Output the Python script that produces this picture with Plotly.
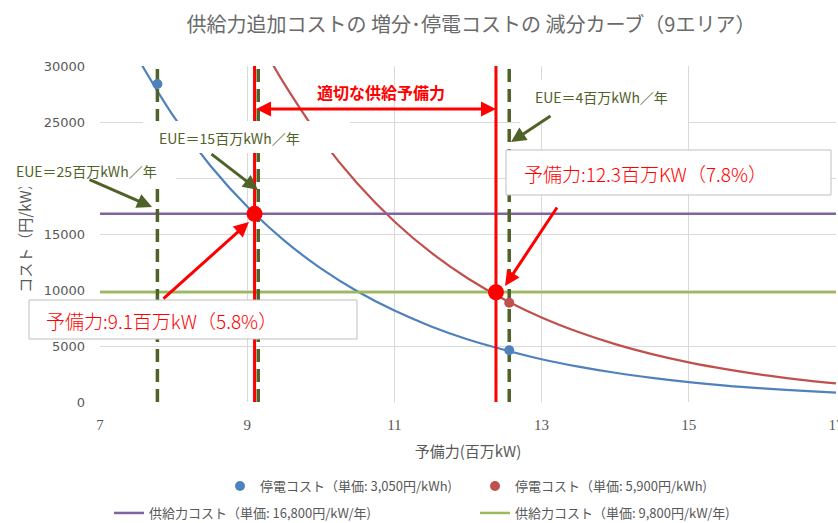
import plotly.graph_objects as go

# ---------------- data ----------------
reserve_blue = [7.55, 8.0, 8.5, 9.0, 9.5, 10.0, 10.5, 11.0, 11.5, 12.0, 12.5,
                13.0, 13.5, 14.0, 14.5, 15.0, 15.5, 16.0, 16.5, 17.0]
cost_blue = [30300, 25500, 21100, 17450, 14430, 11930, 9870, 8160, 6750, 5580, 4640,
             3820, 3160, 2610, 2160, 1780, 1470, 1220, 1010, 840]

reserve_red = [9.3, 9.5, 10.0, 10.5, 11.0, 11.5, 12.0, 12.5, 13.0, 13.5,
               14.0, 14.5, 15.0, 15.5, 16.0, 16.5, 17.0]
cost_red = [30690, 28450, 23540, 19480, 16120, 13330, 11030, 9130, 7550, 6250,
            5170, 4280, 3540, 2930, 2420, 2005, 1660]

blue_point_x = [7.78, 12.56]
blue_point_y = [28400, 4620]
red_point_x = [12.56]
red_point_y = [8860]

supply_cost = [16800, 9800]
supply_names = ["供給力コスト（単価: 16,800円/kW/年)", "供給力コスト（単価: 9,800円/kW/年)"]
outage_names = ["停電コスト（単価: 3,050円/kWh)", "停電コスト（単価: 5,900円/kWh)"]

opt_reserve = [9.1, 12.38]
opt_cost = [16800, 9800]
opt_labels = ["予備力:9.1百万kW（5.8%）", "予備力:12.3百万KW（7.8%）"]

eue_reserve = [7.78, 9.15, 12.56]
eue_labels = ["EUE＝25百万kWh／年", "EUE＝15百万kWh／年", "EUE＝4百万kWh／年"]

x_ticks = [7, 9, 11, 13, 15, 17]
y_ticks = [0, 5000, 10000, 15000, 20000, 25000, 30000]
x_range = [7, 17]
y_range = [0, 30000]

title_text = "供給力追加コストの 増分･停電コストの 減分カーブ（9エリア）"
x_title = "予備力(百万kW)"
y_title = "コスト（円/kW）"
band_label = "適切な供給予備力"

# ---------------- geometry helpers (layout only) ----------------
W, H = 838, 523
L, R, T, B = 100, 2, 66, 121
PW, PH = W - L - R, H - T - B


def px_x(p):
    return (p - L) / PW


def px_y(p):
    return (H - B - p) / PH


BLUE = "#4F81BD"
RED_C = "#C0504D"
PURPLE = "#8064A2"
GREEN = "#9BBB59"
OLIVE = "#4F6228"
RED = "#FF0000"
GRAY = "#595959"

fig = go.Figure()

# curves (no legend)
fig.add_trace(go.Scatter(x=reserve_blue, y=cost_blue, mode="lines", line=dict(color=BLUE, width=2.2, shape="spline"),
                         showlegend=False, hoverinfo="skip"))
fig.add_trace(go.Scatter(x=reserve_red, y=cost_red, mode="lines", line=dict(color=RED_C, width=2.2, shape="spline"),
                         showlegend=False, hoverinfo="skip"))

# horizontal supply cost lines (legend 2)
for c, col, nm in zip(supply_cost, [PURPLE, GREEN], supply_names):
    fig.add_trace(go.Scatter(x=x_range, y=[c, c], mode="lines", line=dict(color=col, width=2.5),
                             name=nm, legend="legend2"))

# EUE dashed vertical lines
for xv in eue_reserve:
    fig.add_trace(go.Scatter(x=[xv, xv], y=y_range, mode="lines",
                             line=dict(color=OLIVE, width=3.5, dash="13px,7px"),
                             showlegend=False, hoverinfo="skip", cliponaxis=False))

# optimal reserve red vertical lines
for xv in opt_reserve:
    fig.add_trace(go.Scatter(x=[xv, xv], y=y_range, mode="lines", line=dict(color=RED, width=3),
                             showlegend=False, hoverinfo="skip"))

# outage cost points (legend 1)
fig.add_trace(go.Scatter(x=blue_point_x, y=blue_point_y, mode="markers", marker=dict(color=BLUE, size=10),
                         name=outage_names[0], legend="legend"))
fig.add_trace(go.Scatter(x=red_point_x, y=red_point_y, mode="markers", marker=dict(color=RED_C, size=10),
                         name=outage_names[1], legend="legend"))

# optimal points
fig.add_trace(go.Scatter(x=opt_reserve, y=opt_cost, mode="markers", marker=dict(color=RED, size=16),
                         showlegend=False, hoverinfo="skip"))

annotations = []
shapes = []

# white label boxes for EUE texts (cover what lies beneath)
for (x0, y0, x1, y1) in [(0, 153, 176, 187), (143, 121, 350, 153), (520, 80, 688, 124)]:
    annotations.append(dict(xref="paper", yref="paper", x=px_x(x0), y=px_y(y0), xanchor="left", yanchor="top",
                            text=" ", showarrow=False, bgcolor="white", width=x1 - x0, height=y1 - y0,
                            borderpad=0, borderwidth=0))

# EUE texts
for lbl, (tx, ty) in zip(eue_labels, [(14, 171), (157, 138), (533, 97)]):
    annotations.append(dict(xref="paper", yref="paper", x=px_x(tx), y=px_y(ty), xanchor="left", yanchor="middle",
                            text=lbl, showarrow=False, font=dict(size=14, color=OLIVE)))

# EUE arrows (tips at the dashed lines)
for (tipx, tipy, ax, ay) in [(7.707, 17410, -64, -28), (9.147, 18930, -48, -37), (12.584, 23210, 41, -27)]:
    annotations.append(dict(xref="x", yref="y", x=tipx, y=tipy, ax=ax, ay=ay, text="", showarrow=True,
                            arrowhead=2, arrowsize=1, arrowwidth=3, arrowcolor=OLIVE))

# boxes for the optimal reserve labels (drawn above the traces)
for (x0, y0, x1, y1) in [(29, 300, 357, 339), (506, 150, 831, 195)]:
    shapes.append(dict(type="rect", xref="paper", yref="paper", x0=px_x(x0), x1=px_x(x1), y0=px_y(y1), y1=px_y(y0),
                       fillcolor="white", line=dict(color="#BFBFBF", width=1), layer="above"))

for lbl, (tx, ty) in zip(opt_labels, [(44, 320), (522, 173)]):
    annotations.append(dict(xref="paper", yref="paper", x=px_x(tx), y=px_y(ty), xanchor="left", yanchor="middle",
                            text=lbl, showarrow=False, font=dict(size=19, color=RED, weight=300)))

# red arrows to the optimal points
for (tipx, tipy, ax, ay) in [(9.024, 16070, -87, 78), (12.503, 10360, 53, -80)]:
    annotations.append(dict(xref="x", yref="y", x=tipx, y=tipy, ax=ax, ay=ay, text="", showarrow=True,
                            arrowhead=2, arrowsize=1, arrowwidth=3, arrowcolor=RED))

# double arrow between the optimal reserves
annotations.append(dict(xref="x", yref="y", x=opt_reserve[1], y=26160, axref="x", ayref="y",
                        ax=opt_reserve[0], ay=26160, text="", showarrow=True, arrowside="end+start",
                        arrowhead=2, startarrowhead=2, arrowsize=1, startarrowsize=1, arrowwidth=3,
                        arrowcolor=RED))
annotations.append(dict(xref="paper", yref="paper", x=px_x(381), y=px_y(92), xanchor="center", yanchor="middle",
                        text="<b>" + band_label + "</b>", showarrow=False, font=dict(size=16, color=RED)))

fig.update_layout(
    width=W, height=H,
    margin=dict(l=L, r=R, t=T, b=B, autoexpand=False),
    paper_bgcolor="white", plot_bgcolor="white",
    font=dict(family="Noto Sans CJK JP", color=GRAY, size=13),
    title=dict(text=title_text, x=px_x(471), xref="paper", xanchor="center", y=1 - 25 / H, yref="container",
               yanchor="middle", font=dict(size=20, color="#6A6A6A")),
    xaxis=dict(range=x_range, tickvals=x_ticks, showgrid=True, gridcolor="#D9D9D9", gridwidth=1,
               zeroline=False, showline=False, ticks="", ticklabelstandoff=12, ticklabeloverflow="allow",
               automargin=False,
               tickfont=dict(family="Liberation Serif", size=15, color=GRAY),
               title=dict(text=x_title, font=dict(size=15, color=GRAY), standoff=14)),
    yaxis=dict(range=y_range, tickvals=y_ticks, tickformat="d", showgrid=True, gridcolor="#D9D9D9", gridwidth=1,
               zeroline=False, showline=False, ticks="", ticklabelstandoff=14, automargin=False,
               tickfont=dict(family="DejaVu Sans", size=13, color=GRAY),
               title=dict(text=y_title, font=dict(size=15, color=GRAY), standoff=8)),
    legend=dict(orientation="h", xref="container", yref="container", x=220 / W, y=1 - 486 / H,
                xanchor="left", yanchor="middle", entrywidth=210, font=dict(size=13, color=GRAY),
                bgcolor="rgba(0,0,0,0)"),
    legend2=dict(orientation="h", xref="container", yref="container", x=109 / W, y=1 - 513 / H,
                 xanchor="left", yanchor="middle", entrywidth=321, font=dict(size=13, color=GRAY),
                 bgcolor="rgba(0,0,0,0)"),
    annotations=annotations,
    shapes=shapes,
    showlegend=True,
)

fig.write_html("out.html")
